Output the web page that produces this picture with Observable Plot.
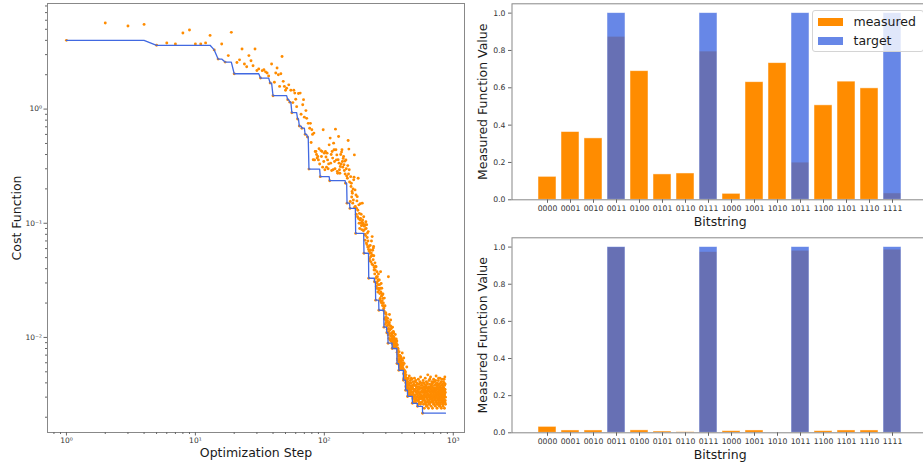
<!DOCTYPE html>
<html><head><meta charset="utf-8">
<script src="https://cdn.jsdelivr.net/npm/d3@7"></script>
<script src="https://cdn.jsdelivr.net/npm/@observablehq/plot@0.6"></script>
<style>
body{margin:0;background:#fff;}
#wrap{position:relative;width:923px;height:465px;overflow:hidden;font-family:'DejaVu Sans',sans-serif;background:#fff;}
.panel{position:absolute;}
.legend{position:absolute;left:811.5px;top:10px;width:112px;height:42px;box-sizing:border-box;border:1px solid #d4d4d4;border-radius:3px;background:rgba(255,255,255,0.8);}
.sw{position:absolute;left:5px;width:25.6px;height:8.4px;}
.lt{position:absolute;left:41px;font-size:12.5px;line-height:14px;color:#1a1a1a;white-space:nowrap;}
</style></head>
<body>
<div id="wrap">
  <div id="left" class="panel" style="left:0;top:0;"></div>
  <div id="rtop" class="panel" style="left:470px;top:0;"></div>
  <div id="rbot" class="panel" style="left:470px;top:230px;"></div>
  <div class="legend">
    <div class="sw" style="top:6.5px;background:#ff8c00;"></div>
    <div class="lt" style="top:3.5px;">measured</div>
    <div class="sw" style="top:25.5px;background:#6787e7;"></div>
    <div class="lt" style="top:22.5px;">target</div>
  </div>
</div>
<script>
// ---------- Left panel: cost function per optimization step ----------
const costEarly = [[1,4.0],[2,5.68],[3,5.35],[4,5.52],[5,3.62],[6,3.79],[7,3.72],[8,4.64],[9,4.93],[10,3.72],
 [11,3.72],[12,3.80],[13,4.42],[14,3.30],[15,2.74],[16,3.72],[17,2.58],[18,2.94],[19,4.70],[20,2.04],
 [21,2.56],[22,2.70],[23,3.36],[24,2.48],[25,2.35],[26,2.94],[27,2.65],[28,2.40],[29,3.36],[30,2.18],
 [31,2.25],[32,1.87],[33,2.17],[34,2.21],[35,2.12],[36,2.07],[37,1.95],[38,1.69],[39,2.48],[40,1.31],
 [41,1.72],[42,2.07],[43,2.29],[44,2.00],[45,1.58],[46,2.04],[47,2.89],[48,1.75],[49,1.58],[50,1.46],
 [51,1.52],[52,1.21],[53,1.63],[54,1.15],[55,1.46],[56,0.93],[57,1.14],[58,1.46],[59,1.38],[60,1.22],
 [61,1.05],[62,0.82],[63,1.37],[64,0.71],[65,1.38],[66,0.90],[67,0.68],[68,1.09],[69,1.21],[70,0.85],
 [71,0.60],[72,0.97],[73,0.83],[74,0.57],[75,0.75],[76,0.298]];
const costMid = [[77,0.68],[78,0.75],[79,0.51],[80,0.66],[81,0.60],[82,0.36],[83,0.616],[84,0.359],[85,0.425],[86,0.425],
 [87,0.40],[88,0.372],[89,0.384],[90,0.359],[91,0.45],[92,0.33],[93,0.256],[94,0.433],[95,0.384],[96,0.425],
 [97,0.31],[98,0.66],[99,0.348],[100,0.411],[101,0.294],[102,0.425],[103,0.38],[104,0.31],[105,0.411],[106,0.359],
 [107,0.30],[108,0.331],[109,0.486],[110,0.236],[111,0.557],[112,0.336],[113,0.40],[114,0.29],[115,0.425],[116,0.372],
 [117,0.294],[118,0.503],[119,0.44],[120,0.348],[121,0.30],[122,0.667],[123,0.44],[124,0.359],[125,0.397],[126,0.284],
 [127,0.274],[128,0.36],[129,0.575],[130,0.336],[131,0.294],[132,0.274],[133,0.314],[134,0.40],[135,0.33],[136,0.42],
 [137,0.44],[138,0.348],[139,0.31],[140,0.37],[141,0.384],[142,0.325],[143,0.29],[144,0.35],[145,0.27],[146,0.224],
 [147,0.359],[148,0.30],[149,0.26],[150,0.15],[151,0.248],[152,0.32],[153,0.531],[154,0.27],[155,0.446],[156,0.294],
 [157,0.23],[158,0.135],[159,0.155],[160,0.256],[161,0.21],[162,0.224],[163,0.17],[164,0.19],[165,0.183],[166,0.15],
 [167,0.20],[168,0.16],[169,0.24],[170,0.253],[171,0.397],[172,0.138],[173,0.196],[174,0.14],[175,0.0815],[176,0.177],
 [177,0.12],[178,0.135],[179,0.157],[180,0.171],[181,0.114],[182,0.13],[183,0.248],[184,0.11],[185,0.145],[186,0.10],
 [187,0.122],[188,0.09],[189,0.107],[190,0.148],[191,0.11],[192,0.10],[193,0.12],[194,0.095],[195,0.088],[196,0.103],
 [197,0.15],[198,0.107],[199,0.097],[200,0.10],[201,0.086],[202,0.114],[203,0.0546]];
const costLate = [[204,0.094],[206,0.08],[208,0.097],[210,0.103],[212,0.067],[213,0.097],[215,0.075],[217,0.062],[219,0.0845],[221,0.033],
 [222,0.0625],[224,0.049],[226,0.0546],[228,0.0583],[230,0.0459],[232,0.07],[233,0.052],[235,0.0764],[236,0.0525],[238,0.043],
 [240,0.0606],[241,0.0625],[243,0.039],[245,0.0307],[247,0.045],[248,0.0389],[250,0.0212],[252,0.0416],[254,0.034],[256,0.0376],
 [257,0.0268],[259,0.031],[261,0.029],[263,0.036],[265,0.0173],[267,0.0318],[269,0.0242],[270,0.0212],[272,0.027],[273,0.0376],
 [275,0.0205],[276,0.0297],[278,0.02],[280,0.024],[282,0.0235],[284,0.019],[286,0.022],[288,0.0173],[290,0.0123],[292,0.0221],
 [294,0.0188],[296,0.0163],[298,0.015],[300,0.0142],[302,0.0159],[305,0.011],[307,0.0135],[310,0.0147],[312,0.0089],[314,0.034],
 [316,0.012],[318,0.0131],[320,0.0159],[322,0.0116],[324,0.0127],[327,0.0142],[330,0.0103],[333,0.011],[336,0.008],[338,0.0123],
 [341,0.0098],[343,0.0113],[345,0.011],[348,0.0089],[350,0.0095],[353,0.0083],[355,0.0106],[358,0.0089],[360,0.0083],[363,0.0092],
 [366,0.0059],[368,0.0086],[370,0.0077],[373,0.0071],[375,0.0068],[378,0.00515],[380,0.0075],[383,0.007],[386,0.0062],[389,0.0066],
 [391,0.0068],[394,0.0058],[396,0.006],[399,0.0054],[402,0.0073],[405,0.0053],[408,0.0052],[411,0.00422],[413,0.0066],[416,0.0059],
 [419,0.0051],[422,0.0045],[425,0.005],[427,0.00345],[430,0.0047],[433,0.0043],[436,0.0055],[439,0.0041],[442,0.00304]];
const costLateFill = [[205,0.088],[207,0.071],[209,0.078],[211,0.09],[214,0.065],[216,0.082],[218,0.07],[220,0.059],
 [223,0.057],[225,0.047],[227,0.064],[229,0.051],[231,0.055],[234,0.044],[237,0.058],[239,0.048],[242,0.052],[244,0.041],
 [246,0.036],[249,0.042],[251,0.033],[253,0.028],[255,0.03],[258,0.034],[260,0.025],[262,0.032],[264,0.027],
 [266,0.026],[268,0.029],[271,0.022],[274,0.025],[277,0.023],[279,0.027],[281,0.021],[283,0.019],[285,0.024],[287,0.02],[289,0.018],
 [291,0.017],[293,0.0145],[295,0.019],[297,0.013],[299,0.0165],[301,0.0135],[303,0.015],
 [306,0.0125],[308,0.0118],[309,0.014],[311,0.0128],
 [313,0.0105],[315,0.0112],[317,0.0098],[319,0.0135],[321,0.0108],[323,0.0095],[325,0.0118],[326,0.0103],[328,0.0125],[329,0.0093],
 [331,0.012],[332,0.0098],[334,0.0107],[335,0.0091],
 [337,0.0094],[339,0.0087],[340,0.0103],[342,0.0082],[344,0.0093],[346,0.0101],[347,0.0085],[349,0.0098],[351,0.0088],[352,0.0092],
 [354,0.0081],[356,0.0096],[357,0.0084],[359,0.009],[361,0.0097],[362,0.0081],[364,0.0087],[365,0.0093],
 [367,0.0074],[369,0.0065],[371,0.0081],[372,0.0063],[374,0.0079],[376,0.0061],[377,0.0069],
 [379,0.0058],[381,0.0064],[382,0.0055],[384,0.0061],[385,0.0069],[387,0.0057],[388,0.0053],[390,0.0062],[392,0.0056],[393,0.006],
 [395,0.0054],[397,0.0065],[398,0.0057],[400,0.0052],[401,0.0059],[403,0.0055],[404,0.0063],[406,0.0054],[407,0.0057],[409,0.0053],[410,0.006],
 [412,0.0048],[414,0.0044],[415,0.0052],[417,0.0046],[418,0.0043],[420,0.005],[421,0.0047],[423,0.0043],[424,0.0049],[426,0.0045],
 [428,0.004],[429,0.0037],[431,0.0044],[432,0.0038],[434,0.0036],[435,0.0041],[437,0.0039],[438,0.0035],[440,0.0043],[441,0.0037]];
const costTail = [[444,0.0041],[446,0.0036],[448,0.0044],[450,0.0033],[452,0.0039],[454,0.0031],[456,0.0046],[458,0.0035],[460,0.0038],[462,0.0032],
 [464,0.0042],[466,0.0034],[468,0.0037],[470,0.0031],[472,0.0040],[474,0.0035],[476,0.0043],[478,0.0033],[480,0.0038],[482,0.00265],
 [484,0.0036],[486,0.0029],[488,0.0041],[490,0.0032],[492,0.0027],[494,0.0039],[496,0.0034],[498,0.0030],[500,0.0044],[502,0.0028],
 [504,0.0035],[506,0.0031],[508,0.0038],[510,0.0027],[512,0.0042],[514,0.0033],[516,0.0029],[518,0.0036],[520,0.0040],[522,0.0030],
 [524,0.0034],[526,0.0028],[528,0.00249],[530,0.0037],[532,0.0031],[534,0.0026],[536,0.0043],[538,0.0033],[540,0.0029],[542,0.0039],
 [544,0.0035],[546,0.0027],[548,0.0032],[550,0.0041],[552,0.0030],[554,0.0036],[556,0.0026],[558,0.0045],[560,0.0033],[562,0.0029],
 [564,0.0038],[566,0.0031],[568,0.0034],[570,0.0027],[572,0.0040],[574,0.0030],[576,0.0036],[578,0.00217],[580,0.0033],[582,0.0028],
 [584,0.0042],[586,0.0031],[588,0.0026],[590,0.0037],[592,0.0029],[594,0.0034],[596,0.0024],[598,0.0039],[600,0.0032],[602,0.0028],
 [604,0.0035],[606,0.0044],[608,0.0030],[610,0.0026],[612,0.0038],[614,0.0033],[616,0.0027],[618,0.0041],[620,0.0031],[622,0.0036],
 [624,0.0025],[626,0.0034],[628,0.0029],[630,0.0039],[632,0.0032],[634,0.0047],[636,0.0027],[638,0.0035],[640,0.0030],[642,0.0024],
 [644,0.0037],[646,0.0031],[648,0.0042],[650,0.0028],[652,0.0034],[654,0.0026],[656,0.0039],[658,0.0033],[660,0.0029],[662,0.0036],
 [664,0.0030],[666,0.0045],[668,0.0027],[670,0.0035],[672,0.0032],[674,0.0025],[676,0.0038],[678,0.0031],[680,0.0041],[682,0.0028],
 [684,0.0034],[686,0.0029],[688,0.0037],[690,0.0024],[692,0.0033],[694,0.0040],[696,0.0030],[698,0.0027],[700,0.0036],[702,0.0032],
 [704,0.0043],[706,0.0028],[708,0.0035],[710,0.0031],[712,0.0026],[714,0.0038],[716,0.0033],[718,0.0029],[720,0.0041],[722,0.0030],
 [724,0.0036],[726,0.0025],[728,0.0034],[730,0.0039],[732,0.0028],[734,0.0032],[736,0.0046],[738,0.0030],[740,0.0027],[742,0.0035],
 [744,0.0031],[746,0.0037],[748,0.0024],[750,0.0033],[752,0.0040],[754,0.0029],[756,0.0035],[758,0.0026],[760,0.0038],[762,0.0032],
 [764,0.0028],[766,0.0042],[768,0.0031],[770,0.0036],[772,0.0027],[774,0.0034],[776,0.0030],[778,0.0039],[780,0.0025],[782,0.0033],
 [784,0.0037],[786,0.0029],[788,0.0044],[790,0.0032],[792,0.0026],[794,0.0035],[796,0.0031],[798,0.0040],[800,0.0028],[802,0.0034],
 [804,0.0030],[806,0.0038],[808,0.0024],[810,0.0033],[812,0.0036],[814,0.0029],[816,0.0043],[818,0.0031],[820,0.0027],[822,0.0035],
 [824,0.0032],[826,0.0039],[828,0.0028],[830,0.0034],[832,0.0025],[834,0.0037],[836,0.0030],[838,0.0041],[840,0.0033],[842,0.0029],
 [844,0.0036],[846,0.0031],[848,0.0027],[850,0.0040],[852,0.0034],[854,0.0024],[856,0.0038],[858,0.0032],[860,0.0045],[862,0.0030],
 [864,0.0035],[866,0.0028],[868,0.0033],[870,0.0026]];
const costTailFill = [[445,0.0034],[449,0.0038],[453,0.0035],[457,0.0032],[461,0.0040],[465,0.0036],[469,0.0033],[473,0.0044],[477,0.0031],[481,0.0037],
 [485,0.0033],[489,0.0030],[493,0.0035],[497,0.0038],[501,0.0031],[505,0.0041],[509,0.0029],[513,0.0034],[517,0.0037],[521,0.0032],
 [525,0.0039],[529,0.0030],[533,0.0035],[537,0.0028],[541,0.0033],[545,0.0037],[549,0.0029],[553,0.0040],[557,0.0031],[561,0.0036],
 [565,0.0027],[569,0.0033],[573,0.0038],[577,0.0030],[581,0.0035],[585,0.0029],[589,0.0033],[593,0.0040],[597,0.0031],[601,0.0036],
 [605,0.0027],[609,0.0034],[613,0.0030],[617,0.0037],[621,0.0025],[625,0.0033],[629,0.0040],[633,0.0028],[637,0.0032],[641,0.0036],
 [645,0.0026],[649,0.0034],[653,0.0031],[657,0.0043],[661,0.0027],[665,0.0033],[669,0.0037],[673,0.0029],[677,0.0035],[681,0.0031],
 [685,0.0039],[689,0.0027],[693,0.0034],[697,0.0030],[701,0.0041],[705,0.0026],[709,0.0033],[713,0.0036],[717,0.0029],[721,0.0034],
 [725,0.0031],[729,0.0042],[733,0.0027],[737,0.0035],[741,0.0030],[745,0.0038],[749,0.0026],[753,0.0033],[757,0.0029],[761,0.0036],
 [765,0.0031],[769,0.0044],[773,0.0028],[777,0.0034],[781,0.0030],[785,0.0037],[789,0.0025],[793,0.0033],[797,0.0029],[801,0.0036],
 [805,0.0041],[809,0.0027],[813,0.0032],[817,0.0035],[821,0.0029],[825,0.0038],[829,0.0026],[833,0.0033],[837,0.0030],[841,0.0036],
 [845,0.0028],[849,0.0043],[853,0.0031],[857,0.0035],[861,0.0027],[865,0.0039],[869,0.0030]];

// best-so-far (running minimum) line: steps where a new minimum was reached
const bestSteps = [1,5,14,15,17,20,32,38,40,52,54,56,62,64,67,71,74,76,93,110,146,150,158,175,203,221,245,250,265,290,305,312,336,366,378,411,427,442,482,528,578];
const bestCosts = [4.0,3.62,3.30,2.74,2.58,2.04,1.87,1.69,1.31,1.21,1.15,0.93,0.82,0.71,0.68,0.60,0.57,0.298,0.256,0.236,0.224,0.150,0.135,0.0815,0.0546,0.033,0.0307,0.0212,0.0173,0.0123,0.011,0.0089,0.008,0.0059,0.00515,0.00422,0.00345,0.00304,0.00265,0.00249,0.00217];
const lastStep = 870;

// ---------- Right panels: bar charts ----------
const bitstrings = ["0000","0001","0010","0011","0100","0101","0110","0111","1000","1001","1010","1011","1100","1101","1110","1111"];
const measuredTop = [0.123,0.363,0.329,0.873,0.689,0.136,0.141,0.794,0.032,0.630,0.732,0.199,0.506,0.633,0.597,0.034];
const measuredBottom = [0.032,0.0125,0.0125,0.998,0.013,0.007,0.0036,0.973,0.009,0.0125,0.0,0.980,0.009,0.0125,0.0125,0.986];
const targetVals = [0,0,0,1,0,0,0,1,0,0,0,1,0,0,0,1];

const FONT = "'DejaVu Sans', sans-serif";
const sup = n => {
  const m = {"-":"\u207B","0":"\u2070","1":"\u00B9","2":"\u00B2","3":"\u00B3"};
  return "10" + String(Math.round(Math.log10(n))).split("").map(c => m[c]).join("");
};

const orangePts = [...costEarly, ...costMid, ...costLate, ...costLateFill, ...costTail, ...costTailFill]
  .map(([s, c]) => ({step: s, cost: c}))
  .sort((a, b) => a.step - b.step);
const bestPts = [];
bestSteps.forEach((s, i) => {
  bestPts.push({step: s, cost: bestCosts[i]});
  const next = i + 1 < bestSteps.length ? bestSteps[i + 1] - 1 : lastStep;
  if (next > s) bestPts.push({step: next, cost: bestCosts[i]});
});

const minorX = [], minorY = [];
for (const e of [-1, 0, 1, 2]) for (let k = 2; k <= 9; k++) { const v = k * 10 ** e; if (v > 0.713 && v < 1222) minorX.push(v); }
for (const e of [-3, -2, -1, 0]) for (let k = 2; k <= 9; k++) { const v = k * 10 ** e; if (v > 0.00147 && v < 8.41) minorY.push(v); }

const leftPlot = Plot.plot({
  width: 470, height: 465,
  marginLeft: 47, marginRight: 6, marginTop: 3, marginBottom: 33,
  x: {type: "log", domain: [0.713, 1222]},
  y: {type: "log", domain: [0.00147, 8.41]},
  style: {fontFamily: FONT, fontSize: "7.5px", color: "#333", background: "transparent", maxWidth: "none"},
  marks: [
    Plot.dot(orangePts, {x: "step", y: "cost", r: 1.45, fill: "#ff8c00"}),
    Plot.line(bestPts, {x: "step", y: "cost", stroke: "#4169e1", strokeWidth: 1.3}),
    Plot.frame({stroke: "#888"}),
    Plot.axisX({ticks: [1, 10, 100, 1000], tickFormat: sup, tickSize: 3.5, tickPadding: 1.5, stroke: "#666", label: null}),
    Plot.axisX({ticks: minorX, tickFormat: () => "", tickSize: 2, stroke: "#666", label: null}),
    Plot.axisY({ticks: [0.01, 0.1, 1], tickFormat: sup, tickSize: 3.5, tickPadding: 2, stroke: "#666", label: null}),
    Plot.axisY({ticks: minorY, tickFormat: () => "", tickSize: 2, stroke: "#666", label: null}),
    Plot.text(["Optimization Step"], {text: d => d, frameAnchor: "bottom", dy: 20.7, textAnchor: "middle", lineAnchor: "middle", fontSize: 12.5, fill: "#1a1a1a"}),
    Plot.text(["Cost Function"], {text: d => d, frameAnchor: "left", dx: -31, rotate: -90, textAnchor: "middle", lineAnchor: "middle", fontSize: 12.5, fill: "#1a1a1a"})
  ]
});
document.getElementById("left").append(leftPlot);

function barPanel(measured, h, mt, mb) {
  const data = bitstrings.map((b, i) => ({bit: b, measured: measured[i], target: targetVals[i]}));
  return Plot.plot({
    width: 460, height: h,
    marginLeft: 41.5, marginRight: 2.2, marginTop: mt, marginBottom: mb,
    x: {type: "band", domain: bitstrings, paddingInner: 0.2, paddingOuter: 0.79, align: 0.5},
    y: {domain: [0, 1.05]},
    style: {fontFamily: FONT, fontSize: "7.7px", color: "#333", background: "transparent", maxWidth: "none"},
    marks: [
      Plot.barY(data.filter(d => d.measured > 0), {x: "bit", y: "measured", fill: "#ff8c00", stroke: "#fff", strokeWidth: 0.8, strokeOpacity: 0.6}),
      Plot.barY(data.filter(d => d.target > 0), {x: "bit", y: "target", fill: "#4169e1", fillOpacity: 0.8, stroke: "#fff", strokeWidth: 0.8, strokeOpacity: 0.6}),
      Plot.frame({stroke: "#888"}),
      Plot.axisX({tickSize: 3.5, tickPadding: 2.5, stroke: "#666", label: null}),
      Plot.axisY({ticks: [0, 0.2, 0.4, 0.6, 0.8, 1.0], tickFormat: d3.format(".1f"), tickSize: 3.5, tickPadding: 3, stroke: "#666", label: null}),
      Plot.text(["Bitstring"], {text: d => d, frameAnchor: "bottom", dy: 22.5, textAnchor: "middle", lineAnchor: "middle", fontSize: 12.5, fill: "#1a1a1a"}),
      Plot.text(["Measured Function Value"], {text: d => d, frameAnchor: "left", dx: -28.8, rotate: -90, textAnchor: "middle", lineAnchor: "middle", fontSize: 12.5, fill: "#1a1a1a"})
    ]
  });
}
document.getElementById("rtop").append(barPanel(measuredTop, 230, 3.3, 30.7));
document.getElementById("rbot").append(barPanel(measuredBottom, 235, 7.3, 32.7));
</script>
</body></html>
